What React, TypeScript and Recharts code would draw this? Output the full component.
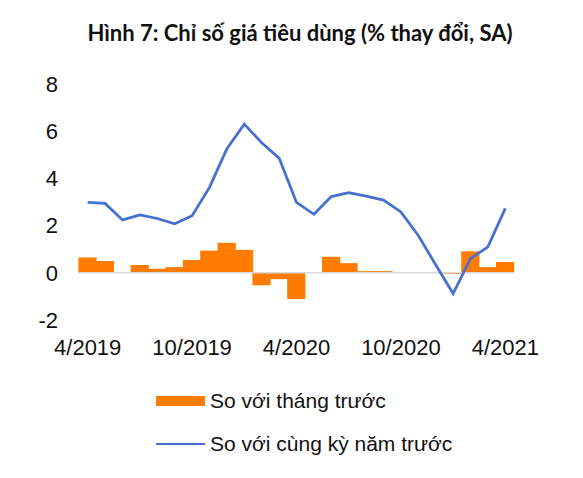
import { ComposedChart, Bar, Line, XAxis, YAxis, ReferenceLine, Legend } from 'recharts';

const months = [
  '4/2019', '5/2019', '6/2019', '7/2019', '8/2019', '9/2019', '10/2019', '11/2019', '12/2019',
  '1/2020', '2/2020', '3/2020', '4/2020', '5/2020', '6/2020', '7/2020', '8/2020', '9/2020',
  '10/2020', '11/2020', '12/2020', '1/2021', '2/2021', '3/2021', '4/2021',
];

// so với tháng trước (%)
const momChange = [
  0.65, 0.5, 0.0, 0.33, 0.17, 0.24, 0.54, 0.94, 1.27, 0.97, -0.53, -0.27, -1.11,
  0.0, 0.68, 0.41, 0.07, 0.07, 0.0, 0.0, 0.0, -0.05, 0.91, 0.24, 0.46,
];

// so với cùng kỳ năm trước (%)
const yoyChange = [
  2.98, 2.94, 2.24, 2.45, 2.3, 2.08, 2.42, 3.62, 5.26, 6.3, 5.51, 4.86, 2.98,
  2.48, 3.23, 3.4, 3.25, 3.08, 2.58, 1.58, 0.34, -0.88, 0.6, 1.1, 2.73,
];

const yTicks = [-2, 0, 2, 4, 6, 8];

const ORANGE = '#FF7C00';
const BLUE = '#4470D0';

const data = months.map((m, i) => ({ month: m, mom: momChange[i], yoy: yoyChange[i] }));

// bars touch each other: widen each rect a hair so no white seam shows
function FlushBar(props: any) {
  const { x, y, width, height, fill } = props;
  if (!height) return null;
  const top = height < 0 ? y + height : y;
  return <rect x={x - 0.6} y={top} width={width + 1.2} height={Math.abs(height)} fill={fill} />;
}

function ChartLegend() {
  const text = { fontFamily: '"Liberation Sans", Arial, sans-serif', fontSize: 21, color: '#111' };
  return (
    <div>
      <div style={{ display: 'flex', alignItems: 'center', height: 26 }}>
        <div style={{ width: 49, height: 10, background: ORANGE, marginRight: 5 }} />
        <span style={text}>So với tháng trước</span>
      </div>
      <div style={{ display: 'flex', alignItems: 'center', height: 26, marginTop: 17 }}>
        <div style={{ width: 49, height: 2, background: BLUE, marginRight: 5 }} />
        <span style={text}>So với cùng kỳ năm trước</span>
      </div>
    </div>
  );
}

export default function App() {
  return (
    <div style={{ position: 'absolute', left: 0, top: 0, width: 583, height: 478, background: '#fff' }}>
      <div
        style={{
          position: 'absolute', left: 0, top: 19, width: 600, textAlign: 'center',
          fontFamily: 'Lato, sans-serif', fontWeight: 700, fontSize: 22, color: '#111',
        }}
      >
        Hình 7: Chỉ số giá tiêu dùng (% thay đổi, SA)
      </div>
      <ComposedChart
        width={583}
        height={478}
        data={data}
        margin={{ top: 84, right: 69, bottom: 128, left: 19 }}
        barCategoryGap={0}
      >
        <XAxis
          dataKey="month"
          interval={5}
          axisLine={false}
          tickLine={false}
          tickMargin={13}
          tick={{ fill: '#111', fontSize: 22, fontFamily: '"Liberation Sans", Arial, sans-serif' }}
        />
        <YAxis
          width={60}
          domain={[-2, 8]}
          ticks={yTicks}
          axisLine={false}
          tickLine={false}
          tickMargin={15}
          tick={{ fill: '#111', fontSize: 22, fontFamily: '"Liberation Sans", Arial, sans-serif' }}
        />
        <ReferenceLine y={0} stroke="#d9d9d9" strokeWidth={1.5} />
        <Bar
          dataKey="mom"
          name="So với tháng trước"
          fill={ORANGE}
          shape={FlushBar}
          isAnimationActive={false}
        />
        <Line
          type="linear"
          dataKey="yoy"
          name="So với cùng kỳ năm trước"
          stroke={BLUE}
          strokeWidth={2.75}
          dot={false}
          isAnimationActive={false}
        />
        <Legend
          layout="vertical"
          align="center"
          verticalAlign="middle"
          content={() => <ChartLegend />}
          wrapperStyle={{ left: 156, top: 388, width: 320 }}
        />
      </ComposedChart>
    </div>
  );
}
